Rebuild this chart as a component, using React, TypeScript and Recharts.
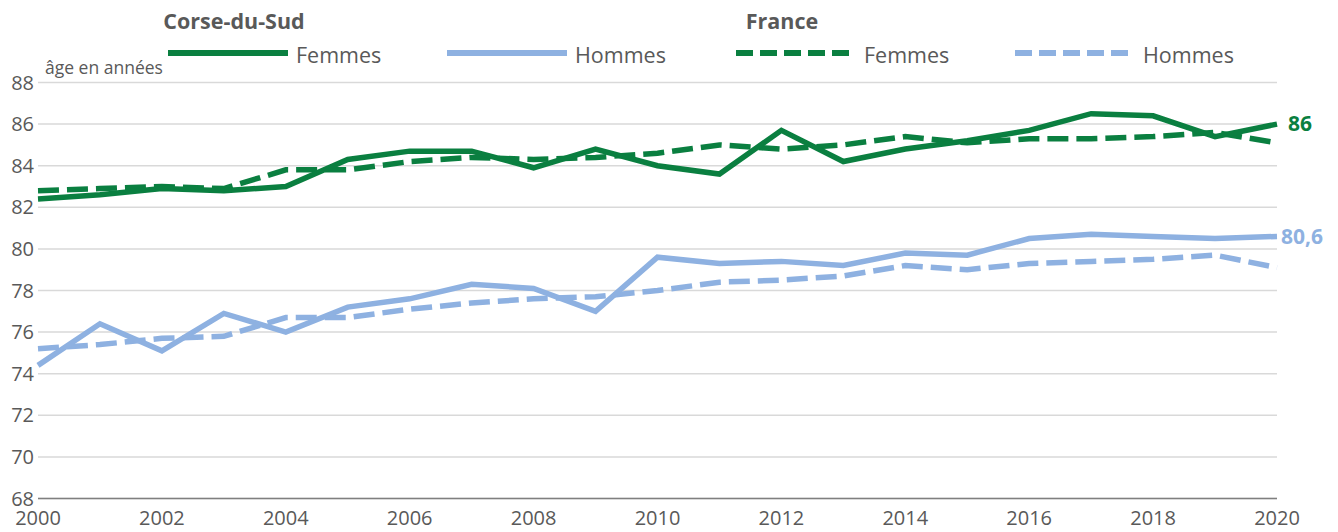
import React from 'react';
import { LineChart, Line, XAxis, YAxis, CartesianGrid, Legend } from 'recharts';

const years = [2000, 2001, 2002, 2003, 2004, 2005, 2006, 2007, 2008, 2009, 2010, 2011, 2012, 2013, 2014, 2015, 2016, 2017, 2018, 2019, 2020];
const corseFemmes = [82.4, 82.6, 82.9, 82.8, 83.0, 84.3, 84.7, 84.7, 83.9, 84.8, 84.0, 83.6, 85.7, 84.2, 84.8, 85.2, 85.7, 86.5, 86.4, 85.4, 86.0];
const corseHommes = [74.4, 76.4, 75.1, 76.9, 76.0, 77.2, 77.6, 78.3, 78.1, 77.0, 79.6, 79.3, 79.4, 79.2, 79.8, 79.7, 80.5, 80.7, 80.6, 80.5, 80.6];
const franceFemmes = [82.8, 82.9, 83.0, 82.9, 83.8, 83.8, 84.2, 84.4, 84.3, 84.4, 84.6, 85.0, 84.8, 85.0, 85.4, 85.1, 85.3, 85.3, 85.4, 85.6, 85.1];
const franceHommes = [75.2, 75.4, 75.7, 75.8, 76.7, 76.7, 77.1, 77.4, 77.6, 77.7, 78.0, 78.4, 78.5, 78.7, 79.2, 79.0, 79.3, 79.4, 79.5, 79.7, 79.1];
const xTicks = [2000, 2002, 2004, 2006, 2008, 2010, 2012, 2014, 2016, 2018, 2020];
const yTicks = [68, 70, 72, 74, 76, 78, 80, 82, 84, 86, 88];
const groupTitles = ['Corse-du-Sud', 'France'];
const legendLabels = ['Femmes', 'Hommes', 'Femmes', 'Hommes'];
const yAxisTitle = 'âge en années';

const GREEN = '#0a7f40';
const BLUE = '#8eb1e1';
const TEXT = '#595959';
const FONT = '"Open Sans", "Noto Sans", sans-serif';

const data = years.map((y, i) => ({
  year: y,
  cf: corseFemmes[i],
  ch: corseHommes[i],
  ff: franceFemmes[i],
  fh: franceHommes[i],
}));

const formatNum = (v: number) => String(v).replace('.', ',');

const makeEndLabel = (color: string, dx: number) => (props: any) => {
  const { x, y, index, value } = props;
  if (index !== data.length - 1) return null;
  return (
    <text x={x + dx} y={y} dy="0.35em" fill={color} fontSize={21} fontWeight={700} fontFamily={FONT}>
      {formatNum(value)}
    </text>
  );
};

const legendItems = [
  { label: legendLabels[0], color: GREEN, dash: undefined, x: 168 },
  { label: legendLabels[1], color: BLUE, dash: undefined, x: 447 },
  { label: legendLabels[2], color: GREEN, dash: '17 7', x: 736 },
  { label: legendLabels[3], color: BLUE, dash: '17 7', x: 1015 },
];

const LegendContent = () => (
  <svg width={1338} height={80} style={{ display: 'block', overflow: 'visible' }}>
    <text x={234} y={29} textAnchor="middle" fill={TEXT} fontSize={21.5} fontWeight={700} fontFamily={FONT}>
      {groupTitles[0]}
    </text>
    <text x={782} y={29} textAnchor="middle" fill={TEXT} fontSize={21.5} fontWeight={700} fontFamily={FONT}>
      {groupTitles[1]}
    </text>
    {legendItems.map((it, i) => (
      <g key={i}>
        <line x1={it.x} x2={it.x + 120} y1={53} y2={53} stroke={it.color} strokeWidth={6} strokeDasharray={it.dash} />
        <text x={it.x + 128} y={63} fill={TEXT} fontSize={21.5} fontFamily={FONT}>
          {it.label}
        </text>
      </g>
    ))}
    <text x={45} y={74} fill={TEXT} fontSize={17.5} fontFamily={FONT}>
      {yAxisTitle}
    </text>
  </svg>
);

export default function App() {
  return (
    <div style={{ position: 'absolute', left: 0, top: 0, width: 1338, height: 532, background: '#fff' }}>
      <LineChart
        width={1338}
        height={532}
        data={data}
        margin={{ top: 2.5, right: 61, bottom: 0, left: 0 }}
      >
        <Legend
          verticalAlign="top"
          align="left"
          height={80}
          wrapperStyle={{ position: 'absolute', top: 0, left: 0, width: 1338, height: 80 }}
          content={() => <LegendContent />}
        />
        <CartesianGrid vertical={false} stroke="#d9d9d9" strokeWidth={1.5} />
        <XAxis
          dataKey="year"
          type="number"
          domain={[2000, 2020]}
          ticks={xTicks}
          interval={0}
          height={33.5}
          tickSize={0}
          tickMargin={12}
          axisLine={{ stroke: '#7f7f7f', strokeWidth: 1.5 }}
          tickLine={false}
          tick={{ fill: TEXT, fontSize: 20, fontFamily: FONT }}
        />
        <YAxis
          type="number"
          domain={[68, 88]}
          ticks={yTicks}
          interval={0}
          width={38}
          tickSize={0}
          tickMargin={4}
          axisLine={false}
          tickLine={false}
          tick={{ fill: TEXT, fontSize: 20, fontFamily: FONT }}
        />
        <Line dataKey="ff" stroke={GREEN} strokeWidth={5.5} strokeDasharray="21 8" dot={false} isAnimationActive={false} />
        <Line dataKey="fh" stroke={BLUE} strokeWidth={5.5} strokeDasharray="21 8" dot={false} isAnimationActive={false} />
        <Line dataKey="cf" stroke={GREEN} strokeWidth={5.5} dot={false} isAnimationActive={false} label={makeEndLabel(GREEN, 11)} />
        <Line dataKey="ch" stroke={BLUE} strokeWidth={5.5} dot={false} isAnimationActive={false} label={makeEndLabel(BLUE, 4)} />
      </LineChart>
    </div>
  );
}
